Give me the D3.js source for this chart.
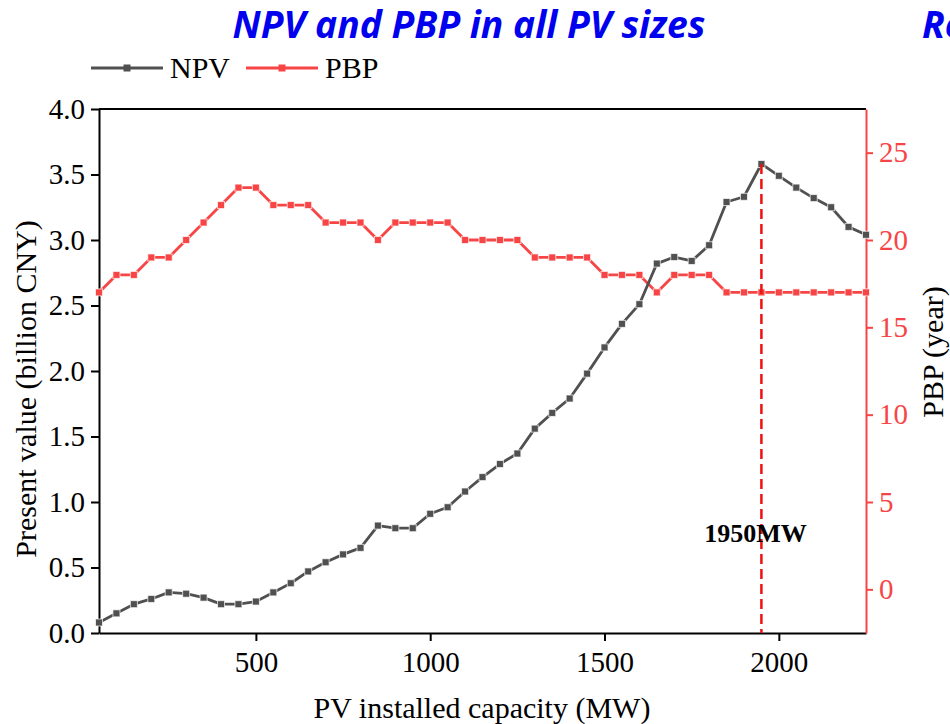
<!DOCTYPE html>
<html>
<head>
<meta charset="utf-8">
<script src="https://cdn.jsdelivr.net/npm/d3@7/dist/d3.min.js"></script>
<style>
  html, body { margin: 0; padding: 0; background: #fff; overflow: hidden; }
  svg { display: block; }
</style>
</head>
<body>
<svg id="chart" width="950" height="724"></svg>
<script>
// PV installed capacity (MW), 50 MW steps
const capacity = [50,100,150,200,250,300,350,400,450,500,550,600,650,700,750,800,850,900,950,1000,
  1050,1100,1150,1200,1250,1300,1350,1400,1450,1500,1550,1600,1650,1700,1750,1800,1850,1900,1950,2000,
  2050,2100,2150,2200,2250];

// Net present value (billion CNY)
const npv = [0.08,0.15,0.22,0.26,0.31,0.30,0.27,0.22,0.22,0.24,0.31,0.38,0.47,0.54,0.60,0.65,0.82,0.80,0.80,0.91,
  0.96,1.08,1.19,1.29,1.37,1.56,1.68,1.79,1.98,2.18,2.36,2.51,2.82,2.87,2.84,2.96,3.29,3.33,3.58,3.49,
  3.40,3.32,3.25,3.10,3.04];

// Payback period (year)
const pbp = [17,18,18,19,19,20,21,22,23,23,22,22,22,21,21,21,20,21,21,21,
  21,20,20,20,20,19,19,19,19,18,18,18,17,18,18,18,17,17,17,17,
  17,17,17,17,17];

const xTicks = [500, 1000, 1500, 2000];
const leftTicks = [0, 0.5, 1.0, 1.5, 2.0, 2.5, 3.0, 3.5, 4.0];
const rightTicks = [0, 5, 10, 15, 20, 25];
const optimum = 1950;

const NPV_COLOR = "#505050";
const PBP_COLOR = "#f74545";
const SERIF = "'Liberation Serif', 'Times New Roman', serif";

const svg = d3.select("#chart");

const plot = { left: 99, right: 866, top: 109, bottom: 633 };

const x = d3.scaleLinear().domain([50, 2250]).range([plot.left, plot.right]);
const yL = d3.scaleLinear().domain([0, 4]).range([plot.bottom, plot.top]);
const yR = d3.scaleLinear().domain([-2.5, 27.5]).range([plot.bottom, plot.top]);

// Title (scaled to its measured width)
function fitText(sel, target) {
  const w = sel.node().getComputedTextLength();
  const fs = parseFloat(sel.attr("font-size"));
  sel.attr("font-size", fs * target / w);
}
const title = svg.append("text")
  .attr("x", 469).attr("y", 38)
  .attr("text-anchor", "middle")
  .attr("font-family", "'Open Sans', sans-serif")
  .attr("font-weight", "bold").attr("font-style", "italic")
  .attr("font-size", 32).attr("fill", "#0000ee")
  .text("NPV and PBP in all PV sizes");
fitText(title, 473);

svg.append("text")
  .attr("x", 922).attr("y", 38)
  .attr("font-family", "'Open Sans', sans-serif")
  .attr("font-weight", "bold").attr("font-style", "italic")
  .attr("font-size", title.attr("font-size")).attr("fill", "#0000ee")
  .text("Re");

// Top frame line
svg.append("line")
  .attr("x1", plot.left).attr("x2", plot.right)
  .attr("y1", plot.top).attr("y2", plot.top)
  .attr("stroke", "#000").attr("stroke-width", 2);

// Axes
function styleAxis(g, color, size) {
  g.select(".domain").attr("stroke", color).attr("stroke-width", 2);
  g.selectAll(".tick line").attr("stroke", color).attr("stroke-width", 2);
  g.selectAll(".tick text")
    .attr("fill", color)
    .attr("font-family", SERIF)
    .attr("font-size", size);
}

const gx = svg.append("g")
  .attr("transform", `translate(0,${plot.bottom})`)
  .call(d3.axisBottom(x).tickValues(xTicks).tickSize(8).tickSizeOuter(0).tickPadding(10).tickFormat(d3.format("d")));
styleAxis(gx, "#000", 29);

const gl = svg.append("g")
  .attr("transform", `translate(${plot.left},0)`)
  .call(d3.axisLeft(yL).tickValues(leftTicks).tickSize(8).tickSizeOuter(0).tickPadding(6).tickFormat(d3.format(".1f")));
styleAxis(gl, "#000", 29);

const gr = svg.append("g")
  .attr("transform", `translate(${plot.right},0)`)
  .call(d3.axisRight(yR).tickValues(rightTicks).tickSize(7).tickSizeOuter(0).tickPadding(6).tickFormat(d3.format("d")));
styleAxis(gr, PBP_COLOR, 29);

// Axis titles
svg.append("text")
  .attr("transform", `translate(36,389) rotate(-90)`)
  .attr("text-anchor", "middle")
  .attr("font-family", SERIF).attr("font-size", 30).attr("fill", "#000")
  .text("Present value (billion CNY)");

svg.append("text")
  .attr("transform", `translate(943,352) rotate(-90)`)
  .attr("text-anchor", "middle")
  .attr("font-family", SERIF).attr("font-size", 30).attr("fill", "#000")
  .text("PBP (year)");

svg.append("text")
  .attr("x", 482).attr("y", 718)
  .attr("text-anchor", "middle")
  .attr("font-family", SERIF).attr("font-size", 30).attr("fill", "#000")
  .text("PV installed capacity (MW)");

// Series
function drawSeries(values, yScale, color) {
  const pts = capacity.map((c, i) => [c, values[i]]);
  const line = d3.line().x(d => x(d[0])).y(d => yScale(d[1]));
  svg.append("path")
    .datum(pts)
    .attr("fill", "none")
    .attr("stroke", color)
    .attr("stroke-width", 2.8)
    .attr("stroke-linejoin", "round")
    .attr("d", line);
  const s = 7;
  svg.append("g").selectAll("rect")
    .data(pts).join("rect")
    .attr("x", d => x(d[0]) - s / 2)
    .attr("y", d => yScale(d[1]) - s / 2)
    .attr("width", s).attr("height", s)
    .attr("fill", color)
    .attr("stroke", "#ffffff").attr("stroke-opacity", 0.7).attr("stroke-width", 1);
}

drawSeries(pbp, yR, PBP_COLOR);
drawSeries(npv, yL, NPV_COLOR);

// Optimum capacity marker
const peakNpv = npv[capacity.indexOf(optimum)];
svg.append("line")
  .attr("x1", x(optimum)).attr("x2", x(optimum))
  .attr("y1", yL(peakNpv)).attr("y2", plot.bottom)
  .attr("stroke", "#ee1111").attr("stroke-width", 2.5)
  .attr("stroke-dasharray", "10,5");

svg.append("text")
  .attr("x", x(optimum) - 6).attr("y", 542)
  .attr("text-anchor", "middle")
  .attr("font-family", SERIF).attr("font-weight", "bold")
  .attr("font-size", 26).attr("fill", "#000")
  .text(optimum + "MW");

// Legend
const legend = [
  { name: "NPV", color: NPV_COLOR, x0: 91 },
  { name: "PBP", color: PBP_COLOR, x0: 246 }
];
const lg = svg.append("g");
legend.forEach(d => {
  lg.append("line")
    .attr("x1", d.x0).attr("x2", d.x0 + 72)
    .attr("y1", 68).attr("y2", 68)
    .attr("stroke", d.color).attr("stroke-width", 2.8);
  lg.append("rect")
    .attr("x", d.x0 + 36 - 3.5).attr("y", 68 - 3.5)
    .attr("width", 7).attr("height", 7)
    .attr("fill", d.color);
  lg.append("text")
    .attr("x", d.x0 + 79).attr("y", 78)
    .attr("font-family", SERIF).attr("font-size", 30).attr("fill", "#000")
    .text(d.name);
});
</script>
</body>
</html>
